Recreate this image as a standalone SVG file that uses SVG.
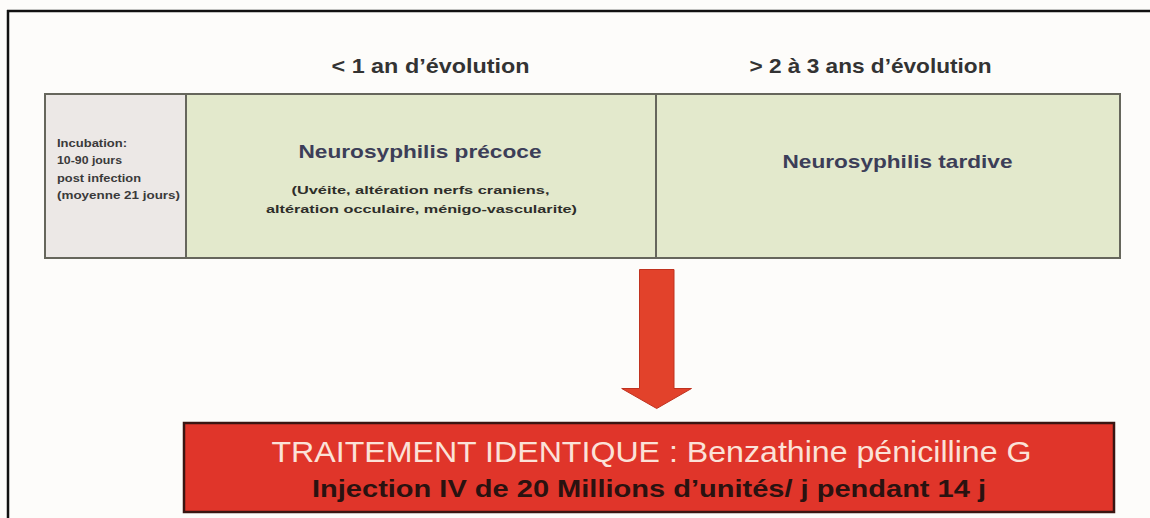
<svg xmlns="http://www.w3.org/2000/svg" width="1150" height="518" viewBox="0 0 1150 518">
<style>
.hdr{font-family:"Liberation Sans",Arial,sans-serif;font-weight:bold;font-size:21px;fill:#333333}
.inc{font-family:"Liberation Sans",Arial,sans-serif;font-weight:bold;font-size:10.5px;fill:#3a3a3a}
.ttl{font-family:"Liberation Sans",Arial,sans-serif;font-weight:bold;font-size:19px;fill:#3c3e58}
.sub{font-family:"Liberation Sans",Arial,sans-serif;font-weight:bold;font-size:11.5px;fill:#2e2e2a}
.tr1{font-family:"Liberation Sans",Arial,sans-serif;font-size:30px;fill:#fbe2d8}
.tr2{font-family:"Liberation Sans",Arial,sans-serif;font-weight:bold;font-size:24px;fill:#2a1210}
.cell{stroke:#66665c;stroke-width:2}
</style>
<rect x="0" y="0" width="1150" height="518" fill="#fdfcfa"/>
<g id="frame">
<line x1="7" y1="11" x2="1150" y2="11" stroke="#111" stroke-width="2.5"/>
<line x1="8" y1="10" x2="8" y2="518" stroke="#111" stroke-width="2.5"/>
</g>
<g id="headers">
<text class="hdr" x="331.5" y="72.5" textLength="198" lengthAdjust="spacingAndGlyphs">&lt; 1 an d’évolution</text>
<text class="hdr" x="749.5" y="72.5" textLength="242" lengthAdjust="spacingAndGlyphs">&gt; 2 à 3 ans d’évolution</text>
</g>
<g id="incubation">
<rect class="cell" x="45" y="94" width="141" height="164" fill="#ece8e6"/>
<text class="inc" x="57" y="147" textLength="70" lengthAdjust="spacingAndGlyphs">Incubation:</text>
<text class="inc" x="57" y="164" textLength="65" lengthAdjust="spacingAndGlyphs">10-90 jours</text>
<text class="inc" x="57" y="181.5" textLength="84" lengthAdjust="spacingAndGlyphs">post infection</text>
<text class="inc" x="57" y="198.5" textLength="123" lengthAdjust="spacingAndGlyphs">(moyenne 21 jours)</text>
</g>
<g id="precoce">
<rect class="cell" x="186" y="94" width="470" height="164" fill="#e3e9cc"/>
<text class="ttl" x="298.5" y="158" textLength="243" lengthAdjust="spacingAndGlyphs">Neurosyphilis précoce</text>
<text class="sub" x="291.5" y="193.5" textLength="258" lengthAdjust="spacingAndGlyphs">(Uvéite, altération nerfs craniens,</text>
<text class="sub" x="266" y="212.5" textLength="311" lengthAdjust="spacingAndGlyphs">altération occulaire, ménigo-vascularite)</text>
</g>
<g id="tardive">
<rect class="cell" x="656" y="94" width="464" height="164" fill="#e3e9cc"/>
<text class="ttl" x="782.5" y="167.5" textLength="230" lengthAdjust="spacingAndGlyphs">Neurosyphilis tardive</text>
</g>
<g id="connectors">
<polygon points="639.5,269.5 674,269.5 674,388.5 691.5,388.5 656.7,408.5 621.7,388.5 639.5,388.5" fill="#e2422b" stroke="#c0321f" stroke-width="1"/>
</g>
<g id="traitement">
<rect x="184" y="423" width="930" height="89" fill="#e0352a" stroke="#3a1512" stroke-width="2.5"/>
<text class="tr1" x="271.5" y="462" textLength="760" lengthAdjust="spacingAndGlyphs">TRAITEMENT IDENTIQUE : Benzathine pénicilline G</text>
<text class="tr2" x="312" y="497" textLength="674" lengthAdjust="spacingAndGlyphs">Injection IV de 20 Millions d’unités/ j pendant 14 j</text>
</g>
</svg>
